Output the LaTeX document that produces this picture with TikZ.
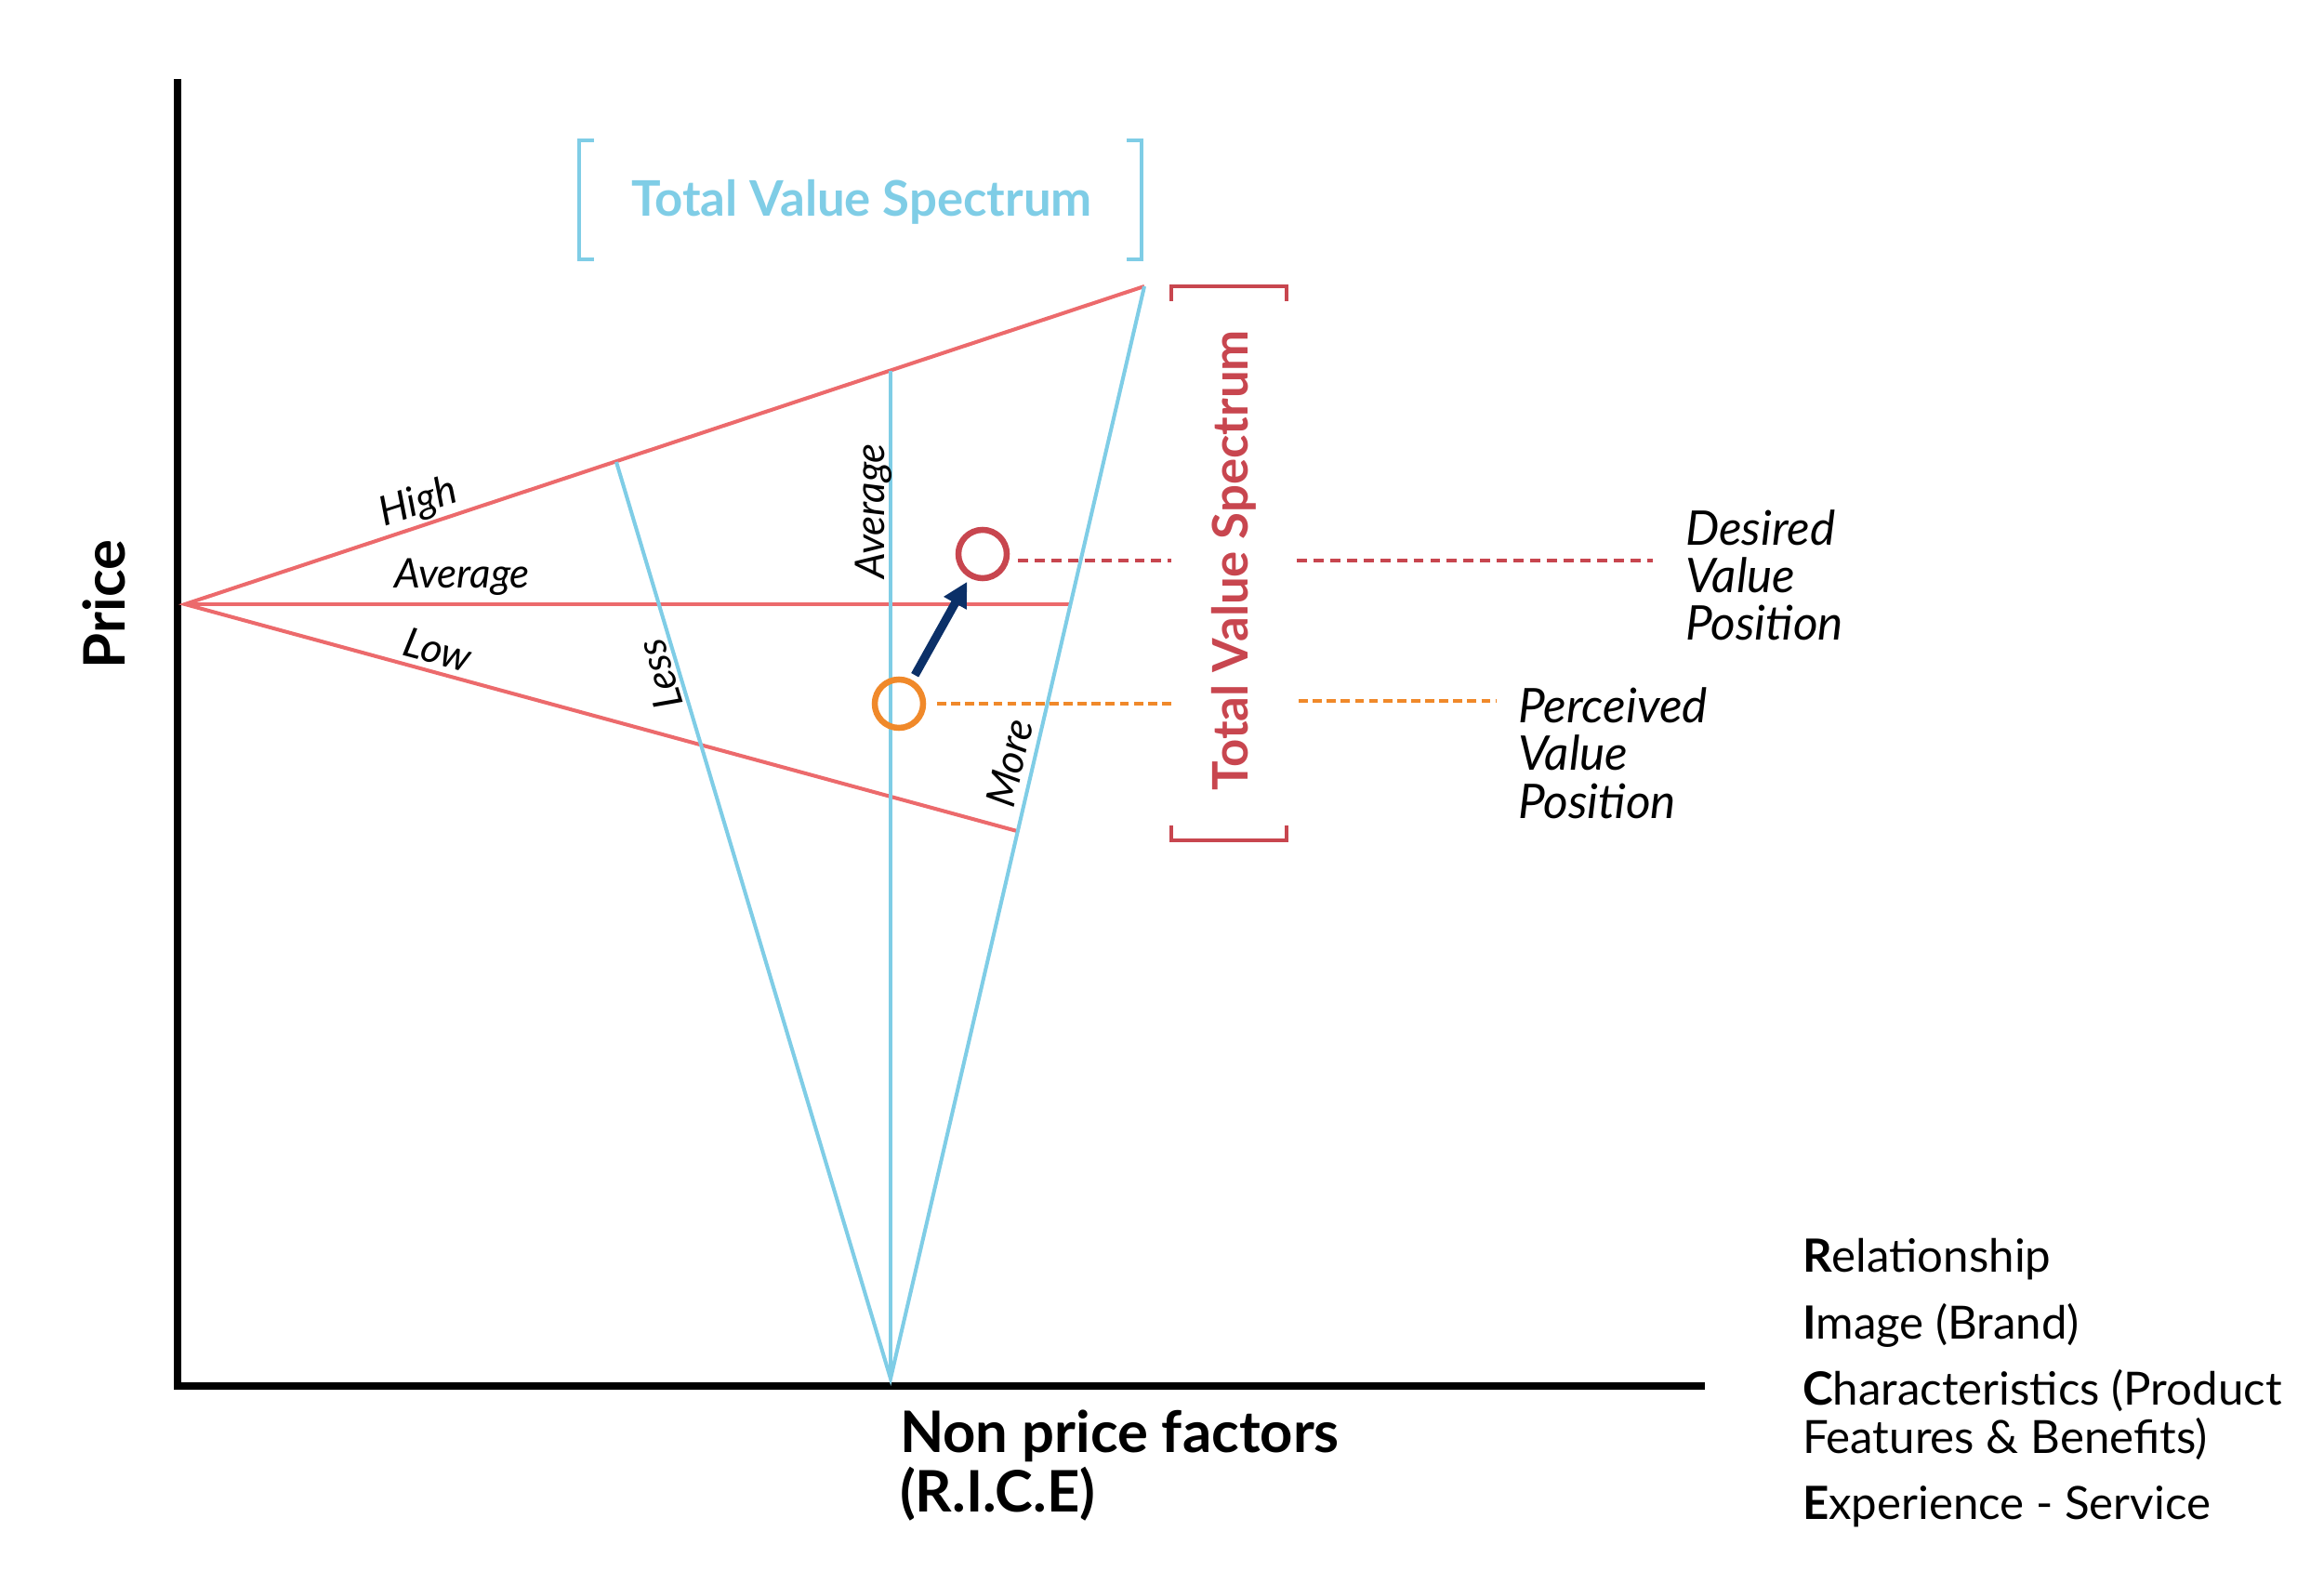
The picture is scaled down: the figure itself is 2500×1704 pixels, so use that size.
\documentclass[tikz,border=0pt]{standalone}
\usepackage{fontspec}
\setmainfont{Lato}
\usetikzlibrary{arrows.meta}
\definecolor{salmon}{HTML}{EC6A6C}
\definecolor{crimson}{HTML}{C8464F}
\definecolor{skyblue}{HTML}{7FCDE6}
\definecolor{orangec}{HTML}{F0892A}
\definecolor{navyc}{HTML}{0B3068}
\begin{document}
\begin{tikzpicture}[x=0.01cm,y=-0.01cm,
  axisline/.style={line width=2pt,black,line join=miter},
  redline/.style={line width=1.15pt,salmon},
  blueline/.style={line width=1.15pt,skyblue},
  circ/.style={circle,minimum size=0.52cm,inner sep=0pt,line width=1.85pt,draw},
  navyarrow/.style={line width=2.6pt,navyc,-{Triangle[length=7.5pt,width=7.5pt]},shorten <=1.7pt,shorten >=1.4pt},
  reddash/.style={line width=0.95pt,crimson,dash pattern=on 3.1pt off 2pt},
  orangedash/.style={line width=0.95pt,orangec,dash pattern=on 2.8pt off 1.5pt},
  bluebr/.style={line width=1pt,skyblue},
  redbr/.style={line width=1pt,crimson},
  txt/.style={inner sep=0pt,outer sep=0pt},
  titlefont/.style={txt,font=\fontsize{15}{18}\selectfont\bfseries},
  axisfont/.style={txt,font=\fontsize{17.5}{21}\selectfont\bfseries},
  small/.style={txt,font=\fontsize{12.5}{14}\selectfont\itshape},
  poslab/.style={txt,anchor=base west,font=\fontsize{14.6}{16}\selectfont\itshape},
  ricelab/.style={txt,anchor=base west,font=\fontsize{14}{15}\selectfont},
]
\useasboundingbox (0,0) rectangle (2500,1704);

% axes
\coordinate (ytop) at (191,85);
\coordinate (origin) at (191,1491);
\coordinate (xend) at (1834,1491);
\draw[axisline] (ytop) -- (origin) -- (xend);

% key points
\coordinate (A) at (199,650);
\coordinate (H) at (1231,308);
\coordinate (M) at (1150,650);
\coordinate (L) at (1094,894);
\coordinate (B) at (958,1483);
\coordinate (LT) at (663,497);
\coordinate (CT) at (958,399);

% red price lines
\draw[redline] (H) -- (A) -- (L);
\draw[redline] (A) -- (M);

% blue value lines
\draw[blueline] (LT) -- (B) -- (H);
\draw[blueline] (B) -- (CT);

% circles and arrow
\node[circ,draw=crimson] (desired) at (1057,596) {};
\node[circ,draw=orangec] (perceived) at (967,757) {};
\draw[navyarrow] (perceived) -- (desired);

% dashed lines
\coordinate (dr0) at (1095,603);
\coordinate (dr1) at (1260,603);
\coordinate (dr2) at (1395,603);
\coordinate (dr3) at (1778,603);
\draw[reddash] (dr0) -- (dr1);
\draw[reddash] (dr2) -- (dr3);
\coordinate (do0) at (1008,757);
\coordinate (do1) at (1260,757);
\coordinate (do2) at (1397,754);
\coordinate (do3) at (1610,754);
\draw[orangedash] (do0) -- (do1);
\draw[orangedash] (do2) -- (do3);

% brackets
\draw[bluebr] (639,151) -- (623,151) -- (623,279) -- (639,279);
\draw[bluebr] (1212,151) -- (1228,151) -- (1228,279) -- (1212,279);
\draw[redbr] (1260,324) -- (1260,308) -- (1384,308) -- (1384,324);
\draw[redbr] (1260,888) -- (1260,904) -- (1384,904) -- (1384,888);

% titles
\node[titlefont,text=skyblue,anchor=base] (tvsh) at (927,233) {Total Value Spectrum};
\node[titlefont,text=crimson,rotate=90,anchor=base] (tvsv) at (1342,603) {Total Value Spectrum};

% axis labels
\node[axisfont,rotate=90,anchor=base] (price) at (134,650) {Price};
\node[axisfont,anchor=base west] (npf1) at (968,1562) {Non price factors};
\node[axisfont,anchor=base west] (npf2) at (968,1626) {(R.I.C.E)};

% small line labels
\node[small,rotate=18,anchor=base] (high) at (454,553) {High};
\node[small,anchor=base] (avgh) at (497,633) {Average};
\node[small,rotate=-15,anchor=base] (low) at (467,714) {Low};
\node[small,rotate=107,anchor=base] (less) at (724,721) {Less};
\node[small,rotate=90,anchor=base] (avgv) at (951,550) {Average};
\node[small,rotate=77,anchor=base] (more) at (1101,824) {More};

% position labels
\node[poslab] (des1) at (1813,587) {Desired};
\node[poslab] (des2) at (1813,638) {Value};
\node[poslab] (des3) at (1813,689) {Position};
\node[poslab] (per1) at (1633,778) {Perceived};
\node[poslab] (per2) at (1633,829) {Value};
\node[poslab] (per3) at (1633,880) {Position};

% RICE list
\node[ricelab] (r1) at (1939,1368) {\textbf{R}elationship};
\node[ricelab] (r2) at (1939,1440) {\textbf{I}mage (Brand)};
\node[ricelab] (r3) at (1939,1511) {\textbf{C}haracteristics (Product};
\node[ricelab] (r4) at (1939,1563) {Features \& Benefits)};
\node[ricelab] (r5) at (1939,1634) {\textbf{E}xperience - Service};
\end{tikzpicture}
\end{document}
